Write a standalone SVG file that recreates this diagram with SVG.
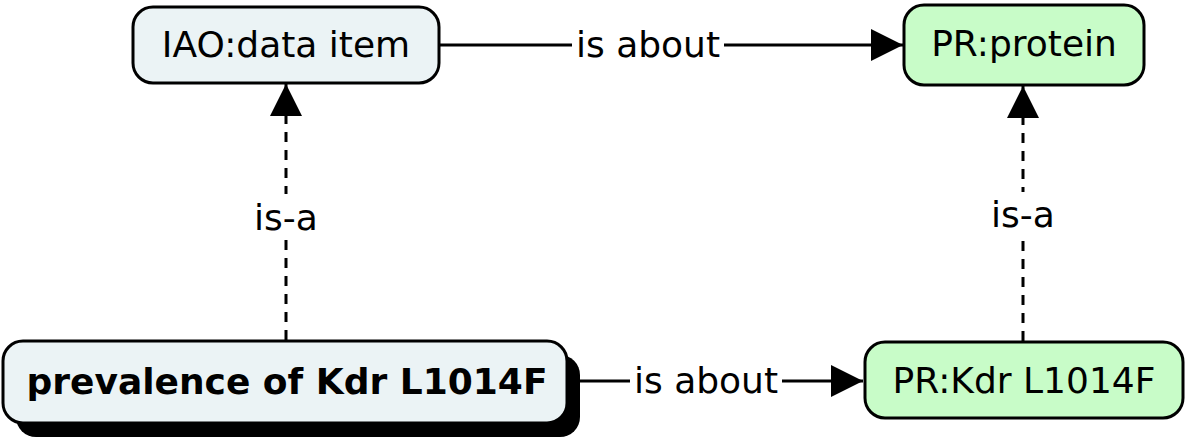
<svg xmlns="http://www.w3.org/2000/svg" width="1189" height="442" viewBox="0 0 1189 442">
<style>
.node{stroke:#000;stroke-width:3}
.blue{fill:#ebf3f5}
.green{fill:#c8fcc8}
.t{font-family:"DejaVu Sans",Verdana,sans-serif;font-size:36px;fill:#000;text-anchor:middle}
.b{font-weight:bold}
.edge{stroke:#000;stroke-width:3;fill:none}
.dash{stroke-dasharray:10,8}
.lbl{font-family:"DejaVu Sans",Verdana,sans-serif;font-size:36px;fill:#000;text-anchor:middle}
</style>
<defs>
<marker id="arr" viewBox="0 0 32 32" refX="32" refY="16" markerWidth="32" markerHeight="32" markerUnits="userSpaceOnUse" orient="auto">
<path d="M0,0 L32,16 L0,32 Z" fill="#000"/>
</marker>
</defs>
<g id="connectors">
<path class="edge" d="M439,45 H903" marker-end="url(#arr)"/>
<rect x="572" y="22" width="152" height="46" fill="#fff"/>
<text class="lbl" x="648" y="57">is about</text>
<path class="edge" d="M580,381 H863" marker-end="url(#arr)"/>
<rect x="630" y="358" width="152" height="46" fill="#fff"/>
<text class="lbl" x="706" y="393">is about</text>
<path class="edge dash" d="M286,340 V84" marker-end="url(#arr)"/>
<rect x="248" y="194" width="76" height="46" fill="#fff"/>
<text class="lbl" x="286" y="230">is-a</text>
<path class="edge dash" d="M1023,341 V86" marker-end="url(#arr)"/>
<rect x="985" y="192" width="76" height="46" fill="#fff"/>
<text class="lbl" x="1023" y="227">is-a</text>
</g>
<g id="iao">
<rect class="node blue" x="133" y="7" width="306" height="76" rx="20"/>
<text class="t" x="286" y="57">IAO:data item</text>
</g>
<g id="protein">
<rect class="node green" x="904" y="5" width="240" height="80" rx="20"/>
<text class="t" x="1024" y="56">PR:protein</text>
</g>
<g id="prevalence">
<rect x="16" y="355" width="564" height="82" rx="20" fill="#000"/>
<rect class="node blue" x="3" y="341" width="564" height="82" rx="20"/>
<text class="t b" x="287" y="394">prevalence of Kdr L1014F</text>
</g>
<g id="kdr">
<rect class="node green" x="865" y="342" width="318" height="76" rx="20"/>
<text class="t" x="1024" y="393">PR:Kdr L1014F</text>
</g>
</svg>
